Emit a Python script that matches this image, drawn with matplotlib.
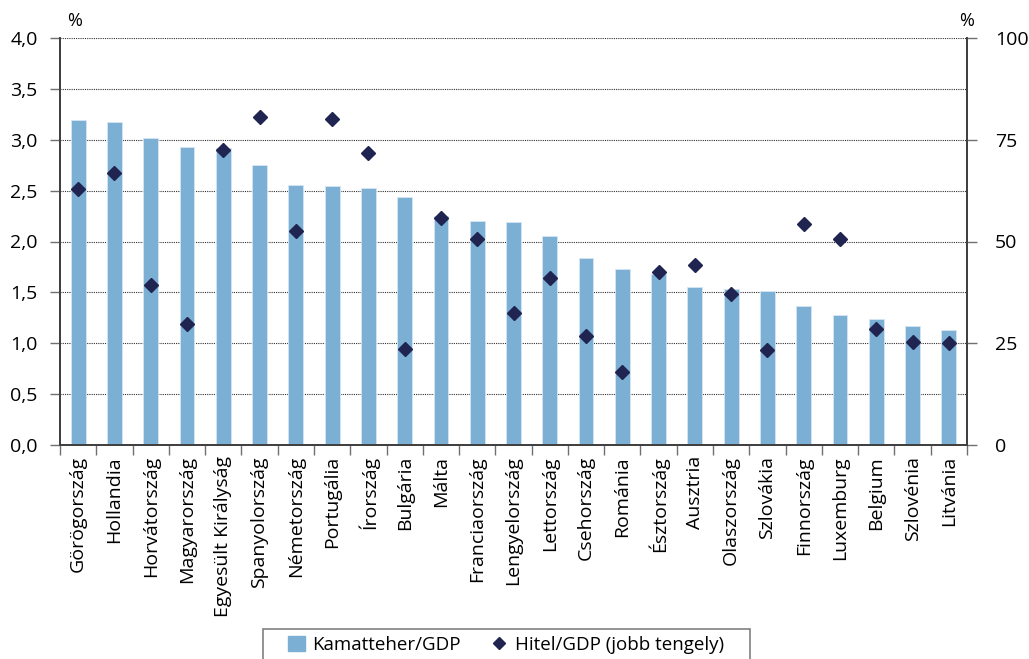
import matplotlib
matplotlib.use("Agg")
import matplotlib.pyplot as plt
import numpy as np
from matplotlib.patches import Rectangle
from matplotlib.lines import Line2D
from matplotlib.ticker import FuncFormatter, FixedLocator

plt.rcParams['font.family'] = ['Open Sans', 'DejaVu Sans']

countries = ["Görögország", "Hollandia", "Horvátország", "Magyarország",
             "Egyesült Királyság", "Spanyolország", "Németország", "Portugália",
             "Írország", "Bulgária", "Málta", "Franciaország", "Lengyelország",
             "Lettország", "Csehország", "Románia", "Észtország", "Ausztria",
             "Olaszország", "Szlovákia", "Finnország", "Luxemburg", "Belgium",
             "Szlovénia", "Litvánia"]

# interest burden, % of GDP (left axis)
interest = [3.19, 3.17, 3.02, 2.93, 2.92, 2.75, 2.56, 2.55, 2.53, 2.44,
            2.25, 2.20, 2.19, 2.05, 1.84, 1.73, 1.68, 1.55, 1.53, 1.51,
            1.37, 1.28, 1.24, 1.17, 1.13]

# credit, % of GDP (right axis)
credit = [62.9, 66.9, 39.3, 29.8, 72.6, 80.7, 52.6, 80.2, 71.7, 23.6,
          55.7, 50.5, 32.5, 41.1, 26.9, 18.0, 42.4, 44.3, 37.2, 23.3,
          54.4, 50.7, 28.6, 25.4, 25.1]

bar_color = "#7BAFD4"
dot_color = "#1F2550"
axis_color = "#404040"
fs = 14

fig = plt.figure(figsize=(10.29, 6.59), dpi=100)
ax = fig.add_axes([60/1029, 1-445/659, (967-60)/1029, (445-38)/659])
ax2 = ax.twinx()

x = np.arange(len(countries))
ax.bar(x, interest, width=0.41, color=bar_color, edgecolor="#D6E6F2",
       linewidth=0.6, zorder=2)
ax2.plot(x, credit, linestyle="none", marker="D", markersize=7.5,
         color=dot_color, zorder=3)

ax.set_xlim(-0.5, len(countries) - 0.5)
ax.set_ylim(0, 4.0)
ax2.set_ylim(0, 100)

ax.set_yticks(np.arange(0, 4.01, 0.5))
ax.yaxis.set_major_formatter(FuncFormatter(lambda v, p: f"{v:.1f}".replace(".", ",")))
ax2.set_yticks([0, 25, 50, 75, 100])

for yv in np.arange(0.5, 4.01, 0.5):
    ax.axhline(yv, color="#303030", linestyle=(0, (1, 1)), linewidth=0.8, zorder=1)

ax.set_xticks(x)
ax.set_xticklabels(countries, rotation=90, fontsize=fs)
ax.tick_params(axis="x", which="major", length=0, pad=8)
ax.xaxis.set_minor_locator(FixedLocator(np.arange(-0.5, len(countries), 1.0)))
ax.tick_params(axis="x", which="minor", length=7, width=1, color="#707070")

ax.tick_params(axis="y", length=7, width=1, color="#707070", labelsize=fs, pad=9)
ax2.tick_params(axis="y", length=7, width=1, color="#707070", labelsize=fs, pad=13)

for a in (ax, ax2):
    a.spines["top"].set_visible(False)
    for s in ("left", "right", "bottom"):
        a.spines[s].set_color(axis_color)
        a.spines[s].set_linewidth(1.3)

ax.text(0.008, 1.02, "%", transform=ax.transAxes, fontsize=fs - 1, ha="left", va="bottom")
ax.text(1.008, 1.02, "%", transform=ax.transAxes, fontsize=fs - 1, ha="right", va="bottom")

# legend in a plain box below the chart
fig.patches.append(Rectangle((263/1029, -0.02), (750-263)/1029, 1-629/659 + 0.02,
                             transform=fig.transFigure, fill=False,
                             edgecolor="#808080", linewidth=1.2))
handles = [Rectangle((0, 0), 1, 1, color=bar_color),
           Line2D([], [], linestyle="none", marker="D", markersize=6, color=dot_color)]
fig.legend(handles, ["Kamatteher/GDP", "Hitel/GDP (jobb tengely)"],
           loc="center", bbox_to_anchor=(506/1029, 1-645/659), ncol=2,
           frameon=False, fontsize=13.5, handlelength=0.9, handleheight=0.9,
           handletextpad=0.4, columnspacing=1.6)

fig.savefig("out.png", dpi=100)
